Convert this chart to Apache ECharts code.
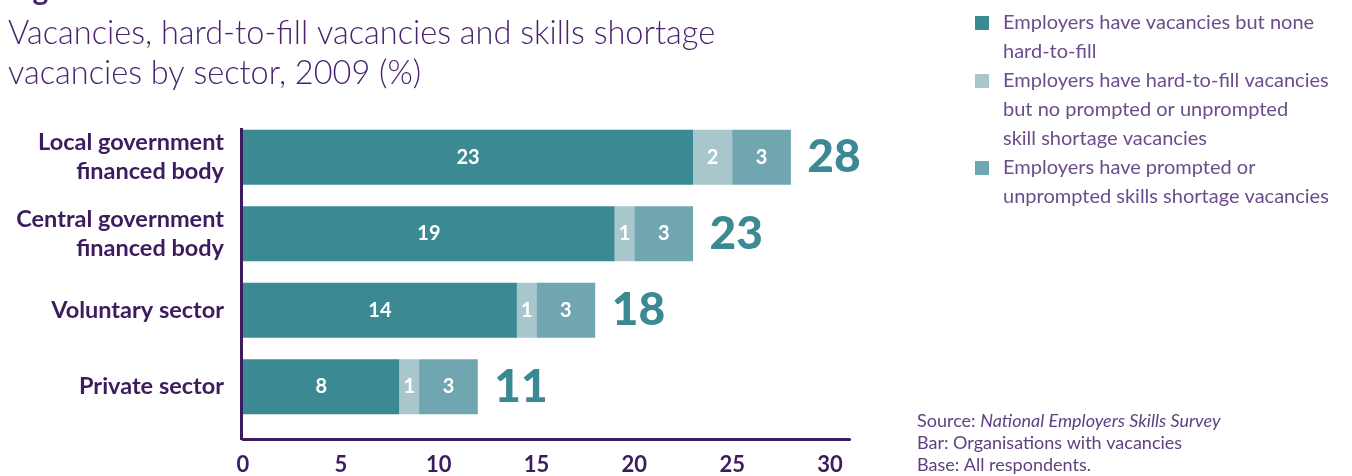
<!DOCTYPE html>
<html><head><meta charset="utf-8">
<script src="https://cdn.jsdelivr.net/npm/echarts@6/dist/echarts.min.js"></script>
<style>html,body{margin:0;padding:0;background:#fff}#c{width:1352px;height:476px}</style>
</head><body><div id="c"></div>
<script>
const categories = ['Local government\nfinanced body', 'Central government\nfinanced body', 'Voluntary sector', 'Private sector'];
const vacanciesNoneHardToFill = [23, 19, 14, 8];
const hardToFillNoSkillShortage = [2, 1, 1, 1];
const skillShortage = [3, 3, 3, 3];
const totals = [28, 23, 18, 11];
const seriesNames = [
  'Employers have vacancies but none\nhard-to-fill',
  'Employers have hard-to-fill vacancies\nbut no prompted or unprompted\nskill shortage vacancies',
  'Employers have prompted or\nunprompted skills shortage vacancies'
];
const axisMin = 0, axisMax = 31, axisInterval = 5;

const FONT = 'Lato, "Open Sans", sans-serif';
const colors = ['#3b8993', '#a8c7cc', '#6fa6af'];
const purple = '#3d1b5f';
const chart = echarts.init(document.getElementById('c'));

const endValues = vacanciesNoneHardToFill.map((v, i) => v + hardToFillNoSkillShortage[i] + skillShortage[i]);

const segLabel = {
  show: true, position: 'inside', color: '#fff', fontFamily: FONT, fontWeight: 'bold', fontSize: 20,
  formatter: p => p.value
};

const legendGraphics = [];
const legendTops = [8.5, 66.5, 153.5];
seriesNames.forEach((n, i) => {
  legendGraphics.push({ type: 'rect', left: 975, top: legendTops[i] + 7.5, shape: { width: 14, height: 14 }, style: { fill: colors[i] } });
  legendGraphics.push({ type: 'text', left: 1003, top: legendTops[i], style: { text: n, font: '20px ' + FONT, fill: '#6c4d8c', lineHeight: 29 } });
});

chart.setOption({
  animation: false,
  grid: { left: 243, top: 119, width: 587 * 31 / 30, height: 306, containLabel: false },
  xAxis: {
    type: 'value', min: axisMin, max: axisMax, interval: axisInterval, offset: 14,
    axisLine: { show: true, lineStyle: { color: purple, width: 3 } },
    axisTick: { show: false }, splitLine: { show: false },
    axisLabel: { color: purple, fontFamily: FONT, fontWeight: 'bold', fontSize: 22, margin: 15,
      formatter: v => (v % axisInterval === 0 ? String(v) : '') }
  },
  yAxis: {
    type: 'category', data: categories, inverse: true,
    axisLine: { show: false }, axisTick: { show: false },
    axisLabel: { color: purple, fontFamily: FONT, fontWeight: 'bold', fontSize: 23.5, lineHeight: 29, margin: 19, align: 'right' }
  },
  series: [
    { name: seriesNames[0], type: 'bar', stack: 's', data: vacanciesNoneHardToFill, barWidth: 55, itemStyle: { color: colors[0] }, label: segLabel },
    { name: seriesNames[1], type: 'bar', stack: 's', data: hardToFillNoSkillShortage, barWidth: 55, itemStyle: { color: colors[1] }, label: segLabel },
    { name: seriesNames[2], type: 'bar', stack: 's', data: skillShortage, barWidth: 55, itemStyle: { color: colors[2] }, label: segLabel },
    { name: 'Total', type: 'scatter', symbolSize: 1, itemStyle: { color: 'rgba(0,0,0,0)', opacity: 1 },
      data: endValues.map((v, i) => [v, i]),
      label: { show: true, opacity: 1, position: 'right', distance: 16, color: '#3b8993', fontFamily: FONT, fontWeight: 900, fontSize: 46,
        formatter: p => String(totals[p.dataIndex]) } }
  ],
  graphic: [
    { type: 'text', left: 8, top: -25, style: { text: 'Figure 10', font: 'bold 30px ' + FONT, fill: '#4a1f6e' } },
    { type: 'text', left: 8, top: 14, style: { text: 'Vacancies, hard-to-fill vacancies and skills shortage\nvacancies by sector, 2009 (%)', font: '300 32.5px ' + FONT, fill: '#4a2270', lineHeight: 40 } },
    { type: 'line', shape: { x1: 241.5, y1: 128, x2: 241.5, y2: 440 }, style: { stroke: purple, lineWidth: 3 } },
    ...legendGraphics,
    { type: 'text', left: 917, top: 410, style: {
      text: 'Source: {i|National Employers Skills Survey}\nBar: Organisations with vacancies\nBase: All respondents.',
      font: '18px ' + FONT, fill: '#5e4280', lineHeight: 22,
      rich: { i: { fontStyle: 'italic', fontFamily: FONT, fontSize: 18, fill: '#5e4280', lineHeight: 22 } } } }
  ]
});
</script></body></html>
